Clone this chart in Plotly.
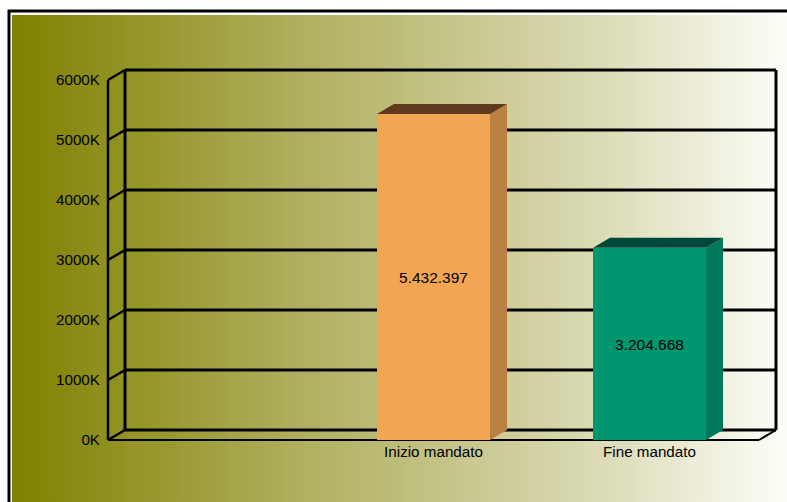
import plotly.graph_objects as go

W, H = 787, 502
FONT = "Liberation Sans"

categories = ["", "Inizio mandato", "Fine mandato"]
values = [None, 5432397, 3204668]
labels = ["", "5.432.397", "3.204.668"]
tick_values = [0, 1000, 2000, 3000, 4000, 5000, 6000]
tick_labels = ["0K", "1000K", "2000K", "3000K", "4000K", "5000K", "6000K"]
front_colors = ["#F2A553", "#F2A553", "#009670"]
side_colors = ["#BC8042", "#BC8042", "#00785A"]
top_colors = ["#603A1E", "#603A1E", "#004838"]

# chart geometry
PX_CAT = 216.0        # pixels per category
PX_K = 0.06           # pixels per 1K
X0, Y0 = 109.5, 440.0 # pixel of category edge -0.5 and of the zero line
DX = 17.0 / PX_CAT    # oblique depth, category units
DY = 10.0 / PX_K      # oblique depth, K units
BAR_W = 113.0 / PX_CAT
LEFT, RIGHT = 105.0, 779.0
TOP, BOTTOM = 67.0, 441.0


def xpx(p):
    return -0.5 + (p - X0) / PX_CAT


def ypx(p):
    return (Y0 - p) / PX_K


fig = go.Figure()

# page background gradient (first subplot, full page, in pixels)
fig.add_trace(go.Scatter(
    x=[12, W, W, 12, 12], y=[15, 15, H, H, 15], mode="none", fill="toself",
    fillgradient=dict(type="horizontal",
                      colorscale=[[0, "#808000"], [0.37, "#AFAF5E"], [0.75, "#DADAB4"], [1, "#FDFDF8"]]),
    hoverinfo="skip", xaxis="x", yaxis="y", showlegend=False))

kvals = [None if v is None else v / 1000 for v in values]

# front faces
fig.add_trace(go.Bar(
    x=[0, 1, 2], y=kvals, width=BAR_W, marker=dict(color=front_colors, line=dict(width=0)),
    text=labels, textposition="inside", insidetextanchor="middle", textangle=0,
    constraintext="none", textfont=dict(family=FONT, size=15.5, color="#000000"),
    xaxis="x2", yaxis="y2", showlegend=False, hoverinfo="skip"))

# oblique side and top faces
for i, v in enumerate(kvals):
    if v is None:
        continue
    l, r = i - BAR_W / 2, i + BAR_W / 2
    fig.add_trace(go.Scatter(
        x=[r, r + DX, r + DX, r, r], y=[0, DY, v + DY, v, 0], mode="none", fill="toself",
        fillcolor=side_colors[i], xaxis="x2", yaxis="y2", showlegend=False, hoverinfo="skip"))
    fig.add_trace(go.Scatter(
        x=[l, l + DX, r + DX, r, l], y=[v, v + DY, v + DY, v, v], mode="none", fill="toself",
        fillcolor=top_colors[i], xaxis="x2", yaxis="y2", showlegend=False, hoverinfo="skip"))

xl, xr = xpx(108), xpx(759)
shapes = []


def wall(x0, y0, x1, y1, width=3):
    shapes.append(dict(type="line", xref="x2", yref="y2", x0=x0, y0=y0, x1=x1, y1=y1,
                       layer="below", line=dict(color="#000000", width=width)))


top = tick_values[-1]
for t in tick_values:
    wall(xl + DX, t + DY, xr + DX, t + DY)     # back wall grid
    wall(xl, t, xl + DX, t + DY, 2.5)          # side wall grid
wall(xl, 0, xl, top, 2.5)
wall(xl + DX, DY, xl + DX, top + DY)
wall(xr + DX, DY, xr + DX, top + DY)
wall(xl, 0, xr, 0, 2)
wall(xr, 0, xr + DX, DY, 2)

# outer frame
shapes.append(dict(type="rect", xref="x", yref="y", x0=9, y0=11, x1=W + 20, y1=H + 20,
                   line=dict(color="#000000", width=3), layer="above"))

fig.update_layout(
    width=W, height=H, margin=dict(l=0, r=0, t=0, b=0, pad=0, autoexpand=False), autosize=False,
    paper_bgcolor="#FFFFFF", plot_bgcolor="rgba(0,0,0,0)", showlegend=False,
    bargap=0, shapes=shapes,
    font=dict(family=FONT, size=15, color="#000000"),
    xaxis=dict(domain=[0, 1], range=[0, W], visible=False, fixedrange=True),
    yaxis=dict(domain=[0, 1], range=[H, 0], visible=False, fixedrange=True),
    xaxis2=dict(domain=[LEFT / W, RIGHT / W],
                range=[xpx(LEFT), xpx(RIGHT)],
                anchor="y2", tickmode="array", tickvals=[0, 1, 2], ticktext=categories,
                showgrid=False, zeroline=False, showline=False,
                ticks="", tickfont=dict(size=15.2)),
    yaxis2=dict(domain=[1 - BOTTOM / H, 1 - TOP / H],
                range=[ypx(BOTTOM), ypx(TOP)],
                anchor="x2", tickmode="array", tickvals=tick_values, ticktext=tick_labels,
                showgrid=False, zeroline=False, showline=False,
                ticks="outside", ticklen=1, tickcolor="rgba(0,0,0,0)", tickfont=dict(size=15.2)),
)

fig.write_html("out.html", config=dict(displayModeBar=False), default_width="787px", default_height="502px",
               post_script="document.body.style.margin='0';document.documentElement.style.overflow='hidden';")
